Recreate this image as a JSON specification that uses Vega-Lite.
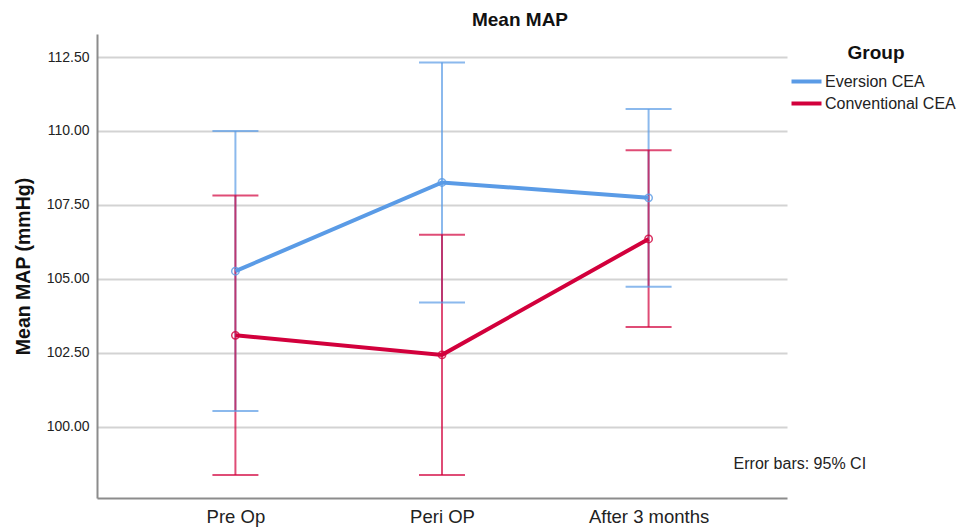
{
  "$schema": "https://vega.github.io/schema/vega-lite/v6.json",
  "autosize": "none",
  "width": 690,
  "height": 464,
  "padding": {"left": 97, "top": 34, "right": 170, "bottom": 30},
  "background": "white",
  "config": {
    "font": "Liberation Sans",
    "view": {"stroke": null},
    "axis": {"grid": false, "domainColor": "#8c8c8c", "domainWidth": 2, "ticks": false, "labelColor": "#222222"}
  },
  "title": {"text": "Mean MAP", "fontSize": 19, "fontWeight": "bold", "color": "#111111", "offset": 4, "dx": 78, "anchor": "middle"},
  "data": {
    "values": [
      {"time": "Pre Op", "group": "Eversion CEA", "mean": 105.26, "lo": 100.53, "hi": 110.0},
      {"time": "Peri OP", "group": "Eversion CEA", "mean": 108.26, "lo": 104.2, "hi": 112.32},
      {"time": "After 3 months", "group": "Eversion CEA", "mean": 107.74, "lo": 104.73, "hi": 110.74},
      {"time": "Pre Op", "group": "Conventional CEA", "mean": 103.09, "lo": 98.37, "hi": 107.82},
      {"time": "Peri OP", "group": "Conventional CEA", "mean": 102.43, "lo": 98.37, "hi": 106.49},
      {"time": "After 3 months", "group": "Conventional CEA", "mean": 106.35, "lo": 103.37, "hi": 109.35}
    ]
  },
  "encoding": {
    "x": {
      "field": "time", "type": "nominal", "sort": ["Pre Op", "Peri OP", "After 3 months"],
      "scale": {"type": "point", "padding": 0.67},
      "axis": {"title": null, "labelAngle": 0, "labelFontSize": 18.5, "labelPadding": 9}
    },
    "color": {
      "field": "group", "type": "nominal",
      "scale": {"domain": ["Eversion CEA", "Conventional CEA"], "range": ["#5a9be6", "#d2003c"]},
      "legend": {
        "title": "Group", "orient": "none", "legendX": 700, "legendY": 10,
        "titleFontSize": 19, "titleFontWeight": "bold", "titleColor": "#111111", "titleAnchor": "middle", "titlePadding": 9,
        "symbolType": "M-2,0H2", "symbolSize": 225, "symbolStrokeWidth": 4, "symbolOpacity": 1,
        "labelFontSize": 16, "labelColor": "#222222", "labelOffset": 9, "rowPadding": 4
      }
    }
  },
  "layer": [
    {
      "mark": {"type": "rule", "strokeWidth": 2, "opacity": 0.7},
      "encoding": {
        "y": {"field": "lo", "type": "quantitative"},
        "y2": {"field": "hi"}
      }
    },
    {
      "mark": {"type": "tick", "size": 46, "thickness": 2, "opacity": 0.7, "orient": "horizontal"},
      "encoding": {
        "y": {"field": "lo", "type": "quantitative"}
      }
    },
    {
      "mark": {"type": "tick", "size": 46, "thickness": 2, "opacity": 0.7, "orient": "horizontal"},
      "encoding": {
        "y": {"field": "hi", "type": "quantitative"}
      }
    },
    {
      "mark": {"type": "line", "strokeWidth": 4},
      "encoding": {
        "y": {
          "field": "mean", "type": "quantitative",
          "scale": {"domain": [97.59, 113.28], "nice": false, "zero": false},
          "axis": {
            "title": "Mean MAP (mmHg)", "titleFontSize": 19.5, "titleFontWeight": "bold", "titleColor": "#111111",
            "titleX": -74, "titleY": 232, "titleAngle": 270, "titleAlign": "center", "titleBaseline": "middle",
            "values": [100, 102.5, 105, 107.5, 110, 112.5], "format": ".2f",
            "labelFontSize": 14, "labelPadding": 8,
            "grid": true, "gridColor": "#d3d3d3", "gridWidth": 2
          }
        },
        "order": {"field": "time"}
      }
    },
    {
      "mark": {"type": "point", "filled": false, "size": 55, "strokeWidth": 1.5, "opacity": 0.8},
      "encoding": {
        "y": {"field": "mean", "type": "quantitative"}
      }
    },
    {
      "data": {"values": [{"note": "Error bars: 95% CI"}]},
      "mark": {"type": "text", "fontSize": 16, "fontWeight": "normal", "align": "left", "baseline": "middle", "dx": 85},
      "encoding": {
        "x": {"datum": "After 3 months"},
        "y": {"datum": 98.74},
        "text": {"field": "note"},
        "color": {"value": "#222222"}
      }
    }
  ]
}
